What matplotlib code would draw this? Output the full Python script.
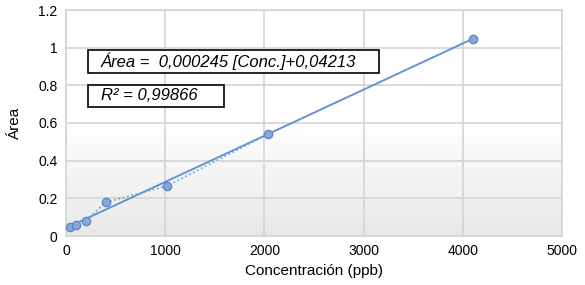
import numpy as np
import matplotlib.pyplot as plt
from matplotlib.patches import Rectangle

plt.rcParams['font.family'] = ['Liberation Sans', 'DejaVu Sans']

# calibration data
conc = [40, 100, 200, 400, 1020, 2040, 4100]
area = [0.048, 0.060, 0.081, 0.179, 0.266, 0.542, 1.048]
slope = 0.000245
intercept = 0.04213

xticks = [0, 1000, 2000, 3000, 4000, 5000]
yticks = [0, 0.2, 0.4, 0.6, 0.8, 1, 1.2]
yticklabels = ['0', '0.2', '0.4', '0.6', '0.8', '1', '1.2']

W, H = 585, 285
fig = plt.figure(figsize=(W / 100, H / 100), dpi=100)
ax = fig.add_axes([66 / W, 1 - 236 / H, (562 - 66) / W, (236 - 10) / H])

# soft gradient background like the Excel plot area
grad = np.linspace(0, 1, 256).reshape(-1, 1)
ax.imshow(grad, extent=[0, 1, 0, 1], transform=ax.transAxes, aspect='auto',
          cmap=plt.matplotlib.colors.LinearSegmentedColormap.from_list(
              'bg', ['#ffffff', '#ffffff', '#e8e8e8']), origin='upper', zorder=0)

ax.set_xlim(0, 5000)
ax.set_ylim(0, 1.2)
ax.set_xticks(xticks)
ax.set_yticks(yticks)
ax.set_yticklabels(yticklabels)
ax.grid(True, color='#d4d4d4', linewidth=1.2, zorder=1)
for s in ax.spines.values():
    s.set_color('#d4d4d4')
    s.set_linewidth(1.2)
ax.tick_params(length=0, labelsize=10, pad=6, colors='black')

# trend line
xf = np.array([min(conc), max(conc)])
ax.plot(xf, slope * xf + intercept, color='#5b8fd0', linewidth=1.3, zorder=3)
# dotted connection between points
ax.plot(conc, area, linestyle=':', color='#6f9ad6', linewidth=1.2, zorder=3)
ax.scatter(conc, area, s=36, facecolor='#86a8d8', edgecolor='#5a85c6',
           linewidth=0.9, zorder=4)

ax.set_xlabel('Concentración (ppb)', fontsize=11, labelpad=4)
ax.set_ylabel('Área', fontsize=11, labelpad=12)

# equation boxes (pixel placement converted to figure fraction)
def box(x0, y0, x1, y1):
    fig.patches.append(Rectangle((x0 / W, 1 - y1 / H), (x1 - x0) / W, (y1 - y0) / H,
                                 transform=fig.transFigure, facecolor='white',
                                 edgecolor='black', linewidth=1.2, zorder=5))

box(88, 50, 379, 73)
box(88, 85, 224, 107)
fig.text(101 / W, 1 - 61.5 / H, 'Área =  0,000245 [Conc.]+0,04213', fontsize=12,
         style='italic', va='center', zorder=6)
fig.text(101 / W, 1 - 96 / H, 'R² = 0,99866', fontsize=12,
         style='italic', va='center', zorder=6)

fig.savefig('out.png', dpi=100)
